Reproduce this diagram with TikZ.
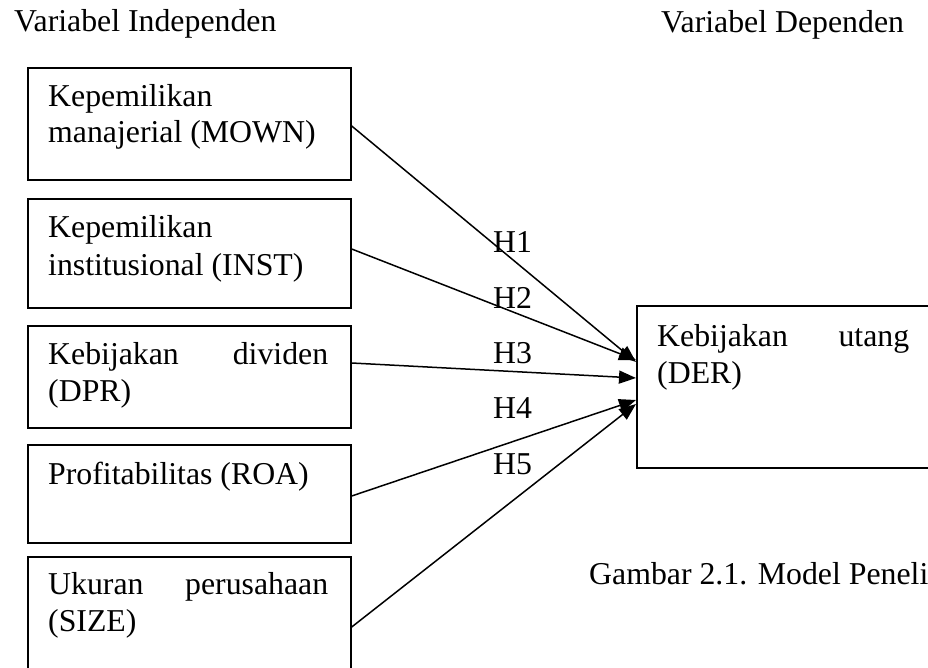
\documentclass[tikz,border=0pt]{standalone}
\usepackage{fontspec}
\setmainfont{Liberation Serif}
\usetikzlibrary{arrows.meta,calc}
\begin{document}
\begin{tikzpicture}[x=1pt,y=-1pt,
  box/.style={draw,line width=1.7pt,inner sep=0pt,anchor=north west,minimum width=323pt},
  txt/.style={anchor=base west,inner sep=0pt,font=\fontsize{31.8}{36}\selectfont},
  conn/.style={line width=1.5pt,-{Triangle[length=17pt,width=13pt]}}]
\path[use as bounding box] (0,0) rectangle (928,668);
\clip (0,0) rectangle (928,668);
% headings
\node[txt] (vi) at (14,32) {Variabel Independen};
\node[txt] (vd) at (661,33) {Variabel Dependen};
% boxes
\node[box,minimum height=112pt] (b1) at (27,67) {};
\node[box,minimum height=109pt] (b2) at (27,198) {};
\node[box,minimum height=102pt] (b3) at (27,325) {};
\node[box,minimum height=98pt] (b4) at (27,444) {};
\node[box,minimum height=140pt] (b5) at (27,556) {};
\node[box,minimum width=300pt,minimum height=162pt] (bd) at (636,305) {};
% box texts
\node[txt] (t1a) at (48,107) {Kepemilikan};
\node[txt] (t1b) at (48,143) {manajerial (MOWN)};
\node[txt] (t2a) at (48,238) {Kepemilikan};
\node[txt] (t2b) at (48,275) {institusional (INST)};
\node[txt] (t3a) at (48,364) {\makebox[280pt][s]{Kebijakan dividen}};
\node[txt] (t3b) at (48,401) {(DPR)};
\node[txt] (t4a) at (48,484) {Profitabilitas (ROA)};
\node[txt] (t5a) at (48,594) {\makebox[280pt][s]{Ukuran perusahaan}};
\node[txt] (t5b) at (48,631) {(SIZE)};
\node[txt] (tda) at (657,346) {\makebox[252pt][s]{Kebijakan utang}};
\node[txt] (tdb) at (657,383) {(DER)};
% connectors
\draw[conn] ($(b1.north east)+(0,59)$) -- ($(bd.north west)+(0,57)$);
\draw[conn] ($(b2.north east)+(0,51)$) -- ($(bd.north west)+(0,55)$);
\draw[conn] ($(b3.north east)+(0,38)$) -- ($(bd.north west)+(0,73)$);
\draw[conn] ($(b4.north east)+(0,52)$) -- ($(bd.north west)+(0,95)$);
\draw[conn] ($(b5.north east)+(0,71)$) -- ($(bd.north west)+(0,99)$);
% hypothesis labels
\node[txt] (h1) at (493,252) {H1};
\node[txt] (h2) at (493,308) {H2};
\node[txt] (h3) at (493,363) {H3};
\node[txt] (h4) at (493,418) {H4};
\node[txt] (h5) at (493,474) {H5};
% caption (cut off at the right edge, as in the reference)
\node[txt] (cap) at (589,584) {Gambar 2.1. Model Penelitian};
\end{tikzpicture}
\end{document}
